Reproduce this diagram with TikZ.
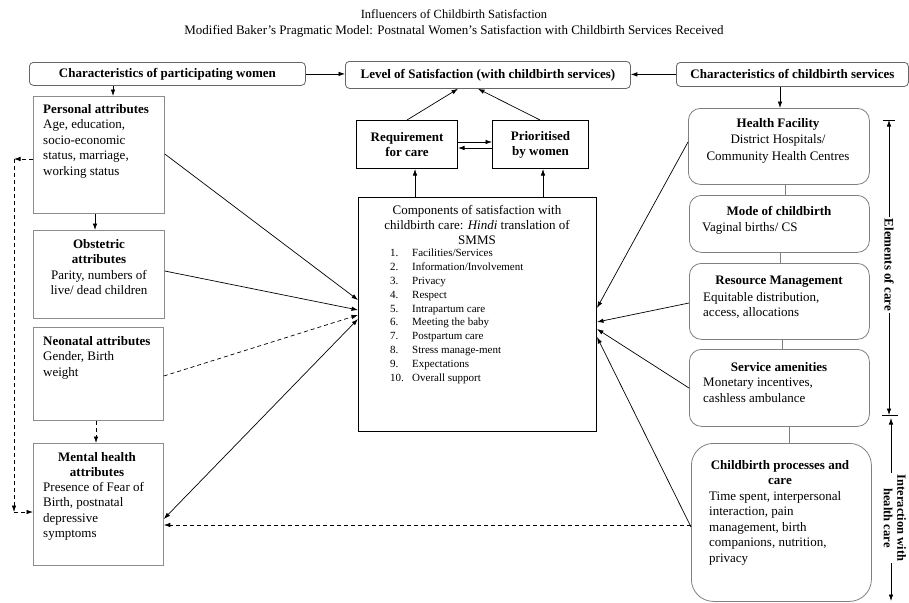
\documentclass[tikz,border=0pt]{standalone}
\usepackage{fontspec}
\setmainfont{Liberation Serif}
\usetikzlibrary{arrows.meta,calc}
\begin{document}
\begin{tikzpicture}[x=1pt,y=-1pt,
  txt/.style={font=\fontsize{13}{15.5}\selectfont, inner sep=0pt},
  lbox/.style={draw=black!45, line width=0.8pt, anchor=north west, inner sep=0pt},
  tbox/.style={draw=black!60, line width=0.8pt, rounded corners=4pt, anchor=north west, inner sep=0pt, font=\fontsize{13}{15.5}\selectfont\bfseries},
  rbox/.style={draw=black!50, line width=0.8pt, rounded corners=12pt, anchor=north west, inner sep=0pt},
  cbox/.style={draw=black, line width=1pt, anchor=north west, inner sep=0pt, align=center, font=\fontsize{13}{15}\selectfont\bfseries},
  arr/.style={line width=0.7pt, -{Latex[length=6.5pt,width=4.5pt]}},
  darr/.style={line width=0.7pt, {Latex[length=6.5pt,width=4.5pt]}-{Latex[length=6.5pt,width=4.5pt]}},
  dsh/.style={dash pattern=on 4pt off 3pt},
  thin/.style={draw=black!50, line width=0.6pt}
]
\useasboundingbox (0,0) rectangle (909,602);
\fill[white] (0,0) rectangle (909,602);

% titles
\node[font=\fontsize{12.5}{15}\selectfont, inner sep=0pt] (title) at (454,14) {Influencers of Childbirth Satisfaction};
\node[font=\fontsize{13}{15}\selectfont, inner sep=0pt] (subtitle) at (454,31) {Modified Baker's Pragmatic Model: Postnatal Women's Satisfaction with Childbirth Services Received};

% top row
\node[tbox, minimum width=276pt, minimum height=23pt] (cpw) at (29,62) {Characteristics of participating women};
\node[tbox, minimum width=285pt, minimum height=27pt] (lvl) at (345,61) {Level of Satisfaction (with childbirth services)};
\node[tbox, minimum width=232pt, minimum height=24pt] (cbs) at (676,62) {Characteristics of childbirth services};
\draw[arr] (cpw.east) -- (cpw.east -| lvl.west);
\draw[arr] (cbs.west) -- (cbs.west -| lvl.east);

% left column
\node[lbox, minimum width=131pt, minimum height=117pt] (pers) at (33,96) {};
\node[txt, align=left, anchor=north west] (perst) at (43,104) {\textbf{Personal attributes}\\Age, education,\\socio-economic\\status, marriage,\\working status};
\node[lbox, minimum width=131pt, minimum height=88pt] (obst) at (33,230) {};
\node[txt, align=center, anchor=north] (obstt) at (99,239) {\textbf{Obstetric}\\\textbf{attributes}\\Parity, numbers of\\live/ dead children};
\node[lbox, minimum width=130pt, minimum height=93pt] (neo) at (33,327) {};
\node[txt, align=left, anchor=north west] (neot) at (43,336) {\textbf{Neonatal attributes}\\Gender, Birth\\weight};
\node[lbox, minimum width=130pt, minimum height=122pt] (ment) at (33,443) {};
\node[txt, align=center, anchor=north] (mentt) at (97,452) {\textbf{Mental health}\\\textbf{attributes}};
\node[txt, align=left, anchor=north west] (mentb) at (43,482) {Presence of Fear of\\Birth, postnatal\\depressive\\symptoms};

\draw[arr] ([xshift=84pt]cpw.south west) -- ([xshift=80pt]pers.north west);
\draw[arr] ([xshift=62pt]pers.south west) -- ([xshift=62pt]obst.north west);
\draw[arr,dsh] ([xshift=63pt]neo.south west) -- ([xshift=63pt]ment.north west);

% left dashed loop
\coordinate (lt) at (14,159);
\coordinate (lb) at (14,512);
\draw[arr,dsh] ([yshift=-63pt]pers.north west) -- (lt);
\draw[arr,dsh] (lt) -- (lb);
\draw[arr,dsh] (lb) -- ([yshift=-69pt]ment.north west);

% centre
\node[cbox, minimum width=101pt, minimum height=48pt] (req) at (356,120) {Requirement\\for care};
\node[cbox, minimum width=96pt, minimum height=48pt] (prio) at (492,120) {Prioritised\\by women};
\node[cbox, minimum width=238pt, minimum height=234pt] (comp) at (358,197) {};
\node[font=\fontsize{13}{15}\selectfont, inner sep=0pt, align=center, anchor=north] (compt) at (477,205) {Components of satisfaction with\\childbirth care: \textit{Hindi} translation of\\SMMS};
\node[font=\fontsize{11}{13.8}\selectfont, inner sep=0pt, align=left, anchor=north west] (compl) at (390,249) {%
\makebox[22pt][l]{1.}Facilities/Services\\
\makebox[22pt][l]{2.}Information/Involvement\\
\makebox[22pt][l]{3.}Privacy\\
\makebox[22pt][l]{4.}Respect\\
\makebox[22pt][l]{5.}Intrapartum care\\
\makebox[22pt][l]{6.}Meeting the baby\\
\makebox[22pt][l]{7.}Postpartum care\\
\makebox[22pt][l]{8.}Stress manage-ment\\
\makebox[22pt][l]{9.}Expectations\\
\makebox[22pt][l]{10.}Overall support};

\draw[arr] ([xshift=51pt]req.north west) -- ([xshift=113pt]lvl.south west);
\draw[arr] ([xshift=48pt]prio.north west) -- ([xshift=133pt]lvl.south west);
\draw[arr] ([yshift=-22pt]req.north east) -- ([yshift=-22pt]prio.north west);
\draw[arr] ([yshift=-28pt]prio.north west) -- ([yshift=-28pt]req.north east);
\draw[arr] ([xshift=57pt]comp.north west) -- ([xshift=57pt]comp.north west |- req.south);
\draw[arr] ([xshift=185pt]comp.north west) -- ([xshift=185pt]comp.north west |- prio.south);

% left to centre
\draw[arr] ([yshift=-58pt]pers.north east) -- ([yshift=-103pt]comp.north west);
\draw[arr] ([yshift=-41pt]obst.north east) -- ([yshift=-113pt]comp.north west);
\draw[arr,dsh] ([yshift=-49pt]neo.north east) -- ([yshift=-118pt]comp.north west);
\draw[darr] ([yshift=-76pt]ment.north east) -- ([yshift=-122pt]comp.north west);

% right column
\node[rbox, minimum width=181pt, minimum height=76pt] (hf) at (688,108) {};
\node[txt, align=center, anchor=north, font=\fontsize{13}{16.5}\selectfont] (hft) at (778,118) {\textbf{Health Facility}\\District Hospitals/\\Community Health Centres};
\node[rbox, minimum width=180pt, minimum height=57pt] (mode) at (689,195) {};
\node[txt, anchor=north] (modet) at (779,206) {\textbf{Mode of childbirth}};
\node[txt, align=left, anchor=north west] (modeb) at (702,222) {Vaginal births/ CS};
\node[rbox, minimum width=180pt, minimum height=76pt] (rm) at (689,263) {};
\node[txt, anchor=north] (rmt) at (779,276) {\textbf{Resource Management}};
\node[txt, align=left, anchor=north west] (rmb) at (703,292) {Equitable distribution,\\access, allocations};
\node[rbox, minimum width=180pt, minimum height=77pt] (sa) at (689,349) {};
\node[txt, anchor=north] (sat) at (779,362) {\textbf{Service amenities}};
\node[txt, align=left, anchor=north west] (sab) at (703,378) {Monetary incentives,\\cashless ambulance};
\node[rbox, rounded corners=22pt, minimum width=180pt, minimum height=158pt] (cpc) at (691,443) {};
\node[txt, align=center, anchor=north, font=\fontsize{13}{15}\selectfont] (cpct) at (780,460) {\textbf{Childbirth processes and}\\\textbf{care}};
\node[txt, align=left, anchor=north west] (cpcb) at (709,491) {Time spent, interpersonal\\interaction, pain\\management, birth\\companions, nutrition,\\privacy};

\draw[arr] ([xshift=104pt]cbs.south west) -- ([xshift=104pt]cbs.south west |- hf.north);
\draw[thin] ([xshift=97pt]hf.south west) -- ([xshift=97pt]hf.south west |- mode.north);
\draw[thin] ([xshift=91pt]mode.south west) -- ([xshift=91pt]mode.south west |- rm.north);
\draw[thin] ([xshift=93pt]rm.south west) -- ([xshift=93pt]rm.south west |- sa.north);
\draw[thin] ([xshift=100pt]sa.south west) -- ([xshift=100pt]sa.south west |- cpc.north);

% right to centre
\draw[arr] ([yshift=-34pt]hf.north west) -- ([yshift=-111pt]comp.north east);
\draw[arr] ([yshift=-40pt]rm.north west) -- ([yshift=-125pt]comp.north east);
\draw[arr] ([yshift=-39pt]sa.north west) -- ([yshift=-132pt]comp.north east);
\draw[arr] ([yshift=-84pt]cpc.north west) -- ([yshift=-140pt]comp.north east);
\draw[arr,dsh] ([yshift=-82pt]cpc.north west) -- ([yshift=-82pt]ment.north east);

% right side brackets
\coordinate (et) at (889,120);
\coordinate (eb) at (889,415);
\coordinate (it) at (891,418);
\coordinate (ib) at (891,601);
\draw[line width=0.8pt] ([xshift=-6pt]et) -- ([xshift=6pt]et);
\draw[line width=0.8pt] ([xshift=-7pt]eb) -- ([xshift=9pt]eb);
\draw[darr] (et) -- (eb);
\draw[darr] (it) -- (ib);
\node[txt, font=\fontsize{13}{15.5}\selectfont\bfseries, rotate=-90, fill=white, inner sep=2pt] (elt) at (889,265) {Elements of care};
\node[txt, font=\fontsize{12.5}{13.5}\selectfont\bfseries, rotate=-90, fill=white, inner sep=1.5pt, align=center] (intt) at (895,518) {Interaction with\\health care};
\end{tikzpicture}
\end{document}
